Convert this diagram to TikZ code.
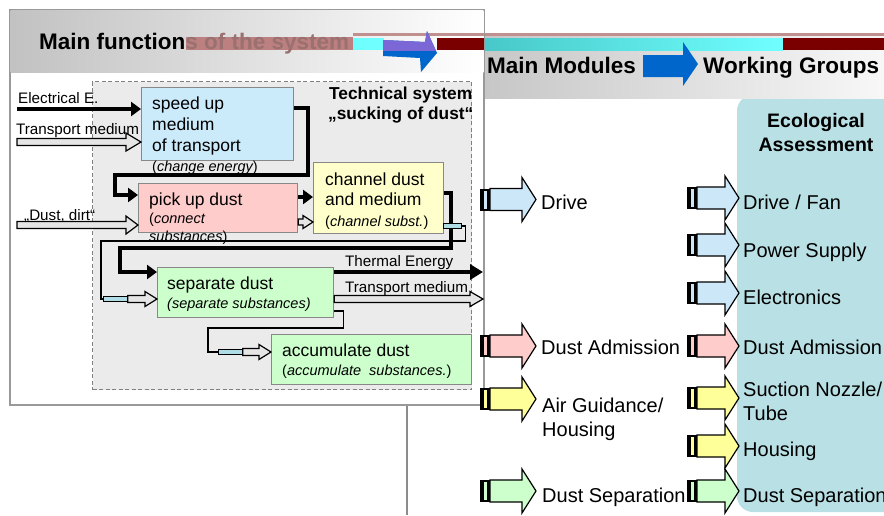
\documentclass[tikz,border=0pt]{standalone}
\usepackage{fontspec}
\setmainfont{Liberation Sans}
\usetikzlibrary{arrows.meta,calc}
\definecolor{cbluebox}{HTML}{CCEBFA}
\definecolor{cbluearr}{HTML}{CCE8F8}
\definecolor{cpink}{HTML}{FFCCCC}
\definecolor{cyelbox}{HTML}{FFFFCC}
\definecolor{cyelarr}{HTML}{FFFF99}
\definecolor{cgreen}{HTML}{CCFFCC}
\definecolor{ceco}{HTML}{B9E0E4}
\definecolor{ccyan}{HTML}{B0DDE5}
\definecolor{cdarkred}{HTML}{7A0000}
\definecolor{cblue}{HTML}{0066CC}
\definecolor{cpurple}{HTML}{7B68D6}
\definecolor{cborder}{HTML}{888888}
\definecolor{ctech}{HTML}{EBEBEB}
\definecolor{cteal}{HTML}{48C8C8}
\definecolor{ccyanl}{HTML}{70FFFF}
\definecolor{crose}{HTML}{BC8080}
\definecolor{croset}{HTML}{9A7070}
\definecolor{croseline}{HTML}{C09090}
\newcommand\ftBox{\fontsize{17.5pt}{21pt}\selectfont}
\newcommand\ftSub{\fontsize{14.5pt}{17pt}\selectfont}
\newcommand\ftLab{\fontsize{15.2pt}{18pt}\selectfont}
\newcommand\ftRight{\fontsize{20pt}{24pt}\selectfont}
\newcommand\ftHead{\fontsize{22.5pt}{27pt}\selectfont\bfseries}
\newcommand\ftTech{\fontsize{17.3pt}{21pt}\selectfont\bfseries}
\newcommand\ftEco{\fontsize{19.5pt}{23pt}\selectfont\bfseries}
\newcommand\hollowarr[5]{%
  \draw[hol] let \p1=(#1), \p2=(#2) in
  (\x1,\y1+#3) -- (\x2-#5,\y1+#3) -- (\x2-#5,\y1+#4) -- (\x2,\y1) --
  (\x2-#5,\y1-#4) -- (\x2-#5,\y1-#3) -- (\x1,\y1-#3) -- cycle;}
\newcommand\blockarr[5]{%
  \fill[black] (#1,#2-11) rectangle (#1+10,#2+11);
  \fill[#3] (#1+4,#2-9) rectangle (#1+6.5,#2+9);
  \draw[line width=1.2pt, fill=#3, line join=miter]
  (#1+10,#2-11) -- (#1+#4,#2-11) -- (#1+#4,#2-22) -- (#1+#5,#2) --
  (#1+#4,#2+22) -- (#1+#4,#2+11) -- (#1+10,#2+11) -- cycle;}
\begin{document}
\begin{tikzpicture}[x=1pt,y=-1pt,
  txt/.style={inner sep=0pt, anchor=base west},
  fbox/.style={draw=cborder, line width=1.3pt, inner sep=0pt, anchor=north west},
  thk/.style={line width=4pt, line join=miter, -{Triangle[length=10pt,width=14pt]}},
  thn/.style={line width=1.2pt, line join=miter},
  hol/.style={draw=black, line width=1.2pt, fill=black!10, line join=miter},
  cbar/.style={draw=black, line width=0.8pt, fill=ccyan, inner sep=0pt, anchor=west}]
\useasboundingbox (0,0) rectangle (884,515);
\fill[white] (0,0) rectangle (884,515);

% ---------- right panel ----------
\draw[black!45, line width=1.2pt] (407,100) -- (407,515);
\fill[ceco, rounded corners=16pt] (737,95) rectangle (904,512);
\shade[left color=black!22, right color=black!3] (485,33) rectangle (884,98);
\fill[croseline] (353,33) rectangle (884,35.5);
\shade[left color=cteal, right color=ccyanl] (485,38) rectangle (783,50);
\fill[cdarkred] (783,38) rectangle (884,50);
\fill[cblue] (643,55) -- (683,55) -- (683,42) -- (698,64) -- (683,86) -- (683,77) -- (643,77) -- cycle;
\node[txt, font=\ftHead] (mm) at (487,73) {Main Modules};
\node[txt, font=\ftHead] (wg) at (703,73) {Working Groups};
\node[font=\ftEco, inner sep=0pt, anchor=base] (eco1) at (816,127) {Ecological};
\node[font=\ftEco, inner sep=0pt, anchor=base] (eco2) at (816,151) {Assessment};

% ---------- left panel ----------
\draw[black!40, line width=1.2pt, fill=white] (10,10) rectangle (484,405);
\shade[left color=black!24, right color=white] (10.6,10.6) rectangle (483.4,72);
\fill[crose] (186,37) rectangle (353,50);
\fill[croseline] (353,33) rectangle (484,35.5);
\fill[ccyanl] (353,38) rectangle (384,50);
\fill[cdarkred] (437,38) rectangle (484,50);
\fill[cblue] (383,40) -- (425,42) -- (427,31) -- (437,53) -- (421,72) -- (420,58) -- (383,56) -- cycle;
\begin{scope}
  \clip (380,28) rectangle (440,50);
  \fill[cpurple] (383,40) -- (425,42) -- (427,31) -- (437,53) -- (421,72) -- (420,58) -- (383,56) -- cycle;
\end{scope}
\node[txt, font=\ftHead] (title) at (39,49) {Main function\textcolor{croset}{s of the system}};

% technical system frame
\node[draw=black!50, dash pattern=on 4pt off 2.5pt, line width=1pt, fill=ctech,
      minimum width=379pt, minimum height=308pt, inner sep=0pt, anchor=north west] (tech) at (92,81) {};
\node[txt, font=\ftTech] (tt1) at (329,99) {Technical system};
\node[txt, font=\ftTech] (tt2) at (328,119) {„sucking of dust“};

% function boxes
\node[fbox, fill=cbluebox, minimum width=152pt, minimum height=73pt] (speed) at (141,87) {};
\node[fbox, fill=cpink, minimum width=159pt, minimum height=49pt] (pick) at (138,183) {};
\node[fbox, fill=cyelbox, minimum width=130pt, minimum height=71pt] (chan) at (313,162) {};
\node[fbox, fill=cgreen, minimum width=176pt, minimum height=50pt] (sep) at (157,267) {};
\node[fbox, fill=cgreen, minimum width=200pt, minimum height=50pt] (acc) at (271,334) {};

% inputs
\coordinate (inE) at (17,109);
\coordinate (inT) at (17,142);
\coordinate (inD) at (17,225);
\draw[thk] (inE) -- (inE -| speed.west);
\hollowarr{inT}{speed.west}{3.5pt}{9pt}{15pt}
\hollowarr{inD}{pick.west}{3.5pt}{9pt}{12pt}

% speed -> pick
\coordinate (s1) at ([yshift=-21pt]speed.north east);
\draw[thk] (s1) -- ++(14,0) |- (115,175) |- ([yshift=-12pt]pick.north west);
% pick -> chan
\coordinate (pk1) at ([yshift=-14pt]pick.north east);
\coordinate (pk2) at ([yshift=-39pt]pick.north east);
\draw[thk] (pk1) -- (pk1 -| chan.west);
\hollowarr{pk2}{chan.west}{3pt}{6.5pt}{10pt}
% chan -> sep (energy)
\coordinate (ch1) at ([yshift=-31pt]chan.north east);
\draw[thk] (ch1) -- ++(7,0) |- (120,248) |- ([yshift=-5pt]sep.north west);
% chan -> sep (substance)
\node[cbar, minimum width=18pt, minimum height=5pt] (cb1) at (443,226) {};
\node[cbar, minimum width=24pt, minimum height=5pt] (cb2) at (103,299) {};
\draw[thn] (cb1.east) -- ++(4,0) |- (101,241) |- (cb2.west);
\hollowarr{cb2.east}{sep.west}{3.5pt}{7.5pt}{12pt}
% sep -> outputs
\coordinate (sp1) at ([yshift=-5pt]sep.north east);
\coordinate (sp2) at ([yshift=-32pt]sep.north east);
\coordinate (thE) at (483,272);
\coordinate (trE) at (483,299);
\draw[line width=4pt, -{Triangle[length=13pt,width=15pt]}] (sp1) -- (thE);
\hollowarr{sp2}{trE}{3.5pt}{7.5pt}{13pt}
% sep -> acc
\node[cbar, minimum width=24pt, minimum height=5pt] (cb3) at (218,352) {};
\draw[thn] ([yshift=-44pt]sep.north east) -- ++(9,0) |- (208,328) |- (cb3.west);
\hollowarr{cb3.east}{acc.west}{3.5pt}{7.5pt}{12pt}

% labels
\node[txt, font=\ftLab] (lE) at (18,103) {Electrical E.};
\node[txt, font=\ftLab] (lT) at (16,134) {Transport medium};
\node[txt, font=\ftLab] (lD) at (24,220) {„Dust, dirt“};
\node[txt, font=\ftLab] (lTh) at (345,266) {Thermal Energy};
\node[txt, font=\ftLab] (lTo) at (345,292) {Transport medium};

% box texts
\node[txt, font=\ftBox] (t1a) at (152,109) {speed up};
\node[txt, font=\ftBox] (t1b) at (152,130) {medium};
\node[txt, font=\ftBox] (t1c) at (152,151) {of transport};
\node[txt, font=\ftSub] (t1d) at (152,171) {({\itshape change energy})};
\node[txt, font=\ftBox] (t2a) at (149,205) {pick up dust};
\node[txt, font=\ftSub] (t2b) at (149,223) {({\itshape connect}};
\node[txt, font=\ftSub] (t2c) at (149,241) {{\itshape substances})};
\node[txt, font=\ftBox] (t3a) at (325,185) {channel dust};
\node[txt, font=\ftBox] (t3b) at (325,205) {and medium};
\node[txt, font=\ftSub] (t3c) at (325,226) {({\itshape channel subst.})};
\node[txt, font=\ftBox] (t4a) at (167,289) {separate dust};
\node[txt, font=\ftSub] (t4b) at (167,308) {{\itshape (separate substances)}};
\node[txt, font=\ftBox] (t5a) at (282,356) {accumulate dust};
\node[txt, font=\ftSub] (t5b) at (282,375) {({\itshape accumulate\ \ substances.})};

% ---------- right panel arrows & texts ----------
\blockarr{480}{199.5}{cbluearr}{42}{56}
\blockarr{480}{346}{cpink}{42}{56}
\blockarr{480}{399}{cyelarr}{42}{56}
\blockarr{480}{491}{cgreen}{42}{56}
\node[txt, font=\ftRight] (m1) at (541,209) {Drive};
\node[txt, font=\ftRight] (m2) at (541,354) {Dust Admission};
\node[txt, font=\ftRight] (m3a) at (542,412) {Air Guidance/};
\node[txt, font=\ftRight] (m3b) at (542,436) {Housing};
\node[txt, font=\ftRight] (m4) at (542,502) {Dust Separation};

\blockarr{687}{198}{cbluearr}{38}{52}
\blockarr{687}{245}{cbluearr}{38}{52}
\blockarr{687}{293}{cbluearr}{38}{52}
\blockarr{687}{346}{cpink}{38}{52}
\blockarr{687}{398}{cyelarr}{38}{52}
\blockarr{687}{446}{cyelarr}{38}{52}
\blockarr{687}{491}{cgreen}{38}{52}
\node[txt, font=\ftRight] (w1) at (743,209) {Drive / Fan};
\node[txt, font=\ftRight] (w2) at (743,257) {Power Supply};
\node[txt, font=\ftRight] (w3) at (743,304) {Electronics};
\node[txt, font=\ftRight] (w4) at (743,354) {Dust Admission};
\node[txt, font=\ftRight] (w5a) at (743,396) {Suction Nozzle/};
\node[txt, font=\ftRight] (w5b) at (743,420) {Tube};
\node[txt, font=\ftRight] (w6) at (743,456) {Housing};
\node[txt, font=\ftRight] (w7) at (743,502) {Dust Separation};
\end{tikzpicture}
\end{document}
